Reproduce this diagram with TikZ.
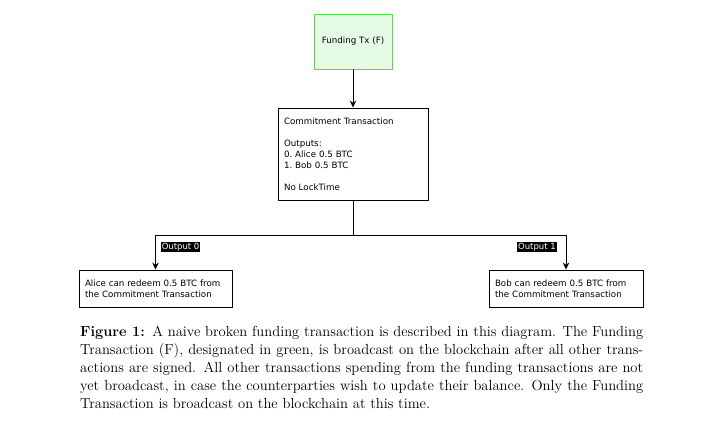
\documentclass[tikz,border=0pt]{standalone}
\usepackage{fontspec}
\usepackage{xcolor}
\usetikzlibrary{arrows.meta,calc}
\newfontfamily\diagfont{DejaVu Sans}
\definecolor{fundgreen}{HTML}{4CE04C}
\definecolor{fundfill}{HTML}{E6FBE6}

\begin{document}
\begin{tikzpicture}[x=1pt,y=-1pt,>={Stealth[length=7pt,width=6.5pt]},
  txbox/.style={rectangle,draw,line width=0.9pt,font=\diagfont\frenchspacing\fontsize{8.7}{11}\selectfont,align=left,inner sep=6pt},
  fundbox/.style={txbox,draw=fundgreen,fill=fundfill,align=center,minimum width=78pt,minimum height=55pt},
  outlbl/.style={fill=black,text=white,font=\diagfont\fontsize{8.5}{9}\selectfont,inner sep=0.8pt}]
\useasboundingbox (0,0) rectangle (720,428);
\node[fundbox] (fund) at (353,41.5) {Funding Tx (F)};
\node[txbox,text width=138pt,minimum height=92pt] (commit) at (353,154)
  {Commitment Transaction\\[11pt]Outputs:\\0. Alice 0.5 BTC\\1. Bob 0.5 BTC\\[11pt]No LockTime};
\node[txbox,text width=141pt,minimum height=37pt] (alice) at (155.5,288.5)
  {Alice can redeem 0.5 BTC from\\the Commitment Transaction};
\node[txbox,text width=142pt,minimum height=37pt] (bob) at (566,288.5)
  {Bob can redeem 0.5 BTC from\\the Commitment Transaction};
\coordinate (split) at ([yshift=-35pt]commit.south);
\draw[->,line width=0.9pt] (fund) -- (commit);
\draw[line width=0.9pt] (commit) -- (split);
\draw[->,line width=0.9pt] (split) -| node[outlbl,pos=0.5,anchor=north west,xshift=5pt,yshift=-6pt]{Output 0} (alice);
\draw[->,line width=0.9pt] (split) -| node[outlbl,pos=0.5,anchor=north east,xshift=-9pt,yshift=-6pt]{Output 1} (bob);
% caption below the diagram
\node[anchor=north west,inner sep=0pt,text width=563pt,align=justify,font=\fontsize{14.6}{18}\selectfont] (caption) at (80,326)
  {\textbf{Figure 1:}\hspace{0.5em}A naive broken funding transaction is described in this diagram. The Funding Transaction (F), designated in green, is broadcast on the blockchain after all other transactions are signed. All other transactions spending from the funding transactions are not yet broadcast, in case the counterparties wish to update their balance. Only the Funding Transaction is broadcast on the blockchain at this time.};
\end{tikzpicture}
\end{document}
